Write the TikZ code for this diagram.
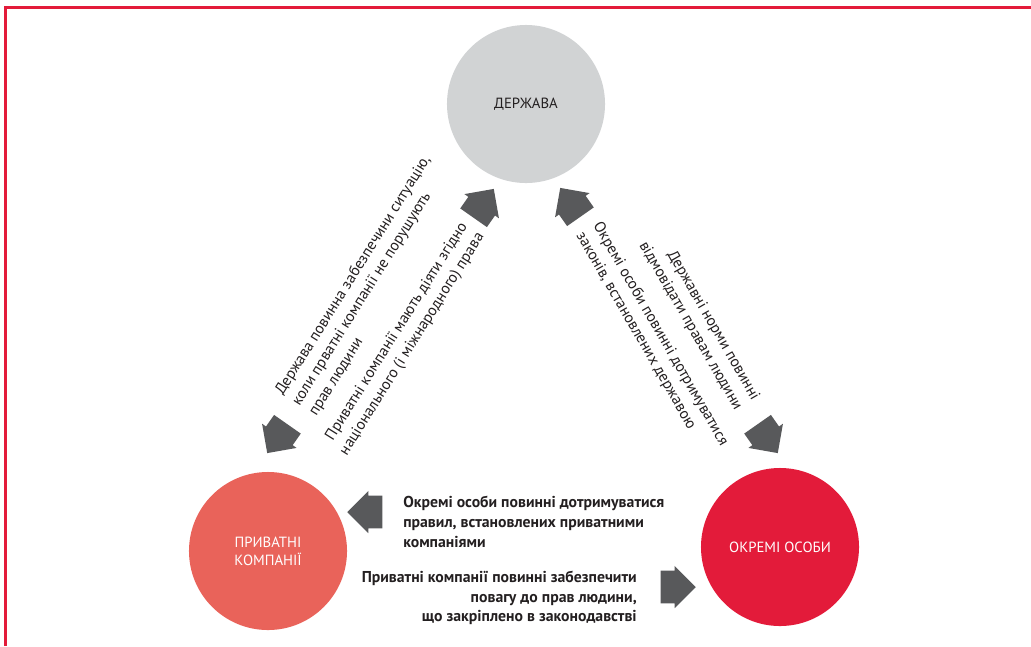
\documentclass[tikz,border=0pt]{standalone}
\usepackage{fontspec}
\setmainfont{PT Sans}
\usetikzlibrary{shapes.arrows,calc}
\definecolor{stategrey}{HTML}{D1D3D4}
\definecolor{companyred}{HTML}{E9635A}
\definecolor{personred}{HTML}{E31B3A}
\definecolor{arrowgrey}{HTML}{58595B}
\definecolor{inkblack}{HTML}{231F20}

\begin{document}
\begin{tikzpicture}[x=0.025cm,y=-0.025cm,
		party/.style={circle,minimum size=3.95cm,inner sep=0pt,align=center,font=\fontsize{10.5}{13}\selectfont},
		blockarrow/.style={single arrow,fill=arrowgrey,inner xsep=0pt,inner ysep=0.4cm,minimum height=0.88cm,single arrow head extend=0.12cm},
		duty/.style={inner sep=0pt,text=inkblack,font=\fontsize{11}{14}\selectfont},
	]
		\useasboundingbox (0,0) rectangle (1031,646);
		\draw[personred,line width=1.8pt] (5.5,646) |- (1031,7.5);

		% the three parties
		\node[party,fill=stategrey,text=inkblack] (state) at (526,104) {ДЕРЖАВА};
		\node[party,fill=companyred,text=white] (firms) at (268,551) {ПРИВАТНІ\\КОМПАНІЇ};
		\node[party,fill=personred,text=white] (people) at (780,547) {ОКРЕМІ ОСОБИ};

		% block arrows
		\node[blockarrow,rotate=235] (fs1) at (282,432) {};
		\node[blockarrow,rotate=55] (fs2) at (479,210) {};
		\node[blockarrow,rotate=125] (ps1) at (575,209) {};
		\node[blockarrow,rotate=-55] (ps2) at (763,432) {};
		\node[blockarrow,rotate=180] (pf1) at (373,512) {};
		\node[blockarrow] (pf2) at (670,587) {};

		% duties along the sides
		\node[duty,rotate=58,align=left] (sf) at (370,286)
			{Держава повинна забезпечини ситуацію,\\коли прватні компанії не порушують\\прав людини};
		\node[duty,rotate=58,align=right] (fs) at (404,339)
			{Приватні компанії мають діяти згідно\\національного (і міжнародного) права};
		\node[duty,rotate=-60,align=right] (sp) at (699,321)
			{Державні норми повинні\\відмовідати правам людини};
		\node[duty,rotate=-60,align=left] (ps) at (652,339)
			{Окремі особи повинні дотримуватися\\законів, встановлених державою};
		\node[duty,font=\fontsize{11.2}{14}\selectfont\bfseries,anchor=west,align=left] (pf) at (403,522)
			{Окремі особи повинні дотримуватися\\правил, встановлених приватними\\компаніями};
		\node[duty,font=\fontsize{11.2}{14}\selectfont\bfseries,anchor=east,align=right] (fp) at (637,598)
			{Приватні компанії повинні забезпечити\\повагу до прав людини,\\що закріплено в законодавстві};
	\end{tikzpicture}
\end{document}
